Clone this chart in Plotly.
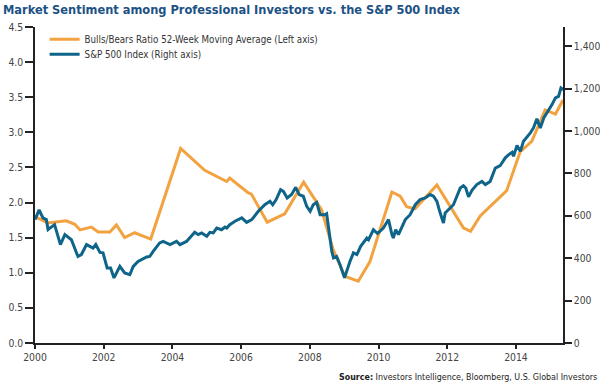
import plotly.graph_objects as go

# Bulls/Bears ratio, 52-week moving average (left axis)
bb_years = [2000.00, 2000.37, 2000.91, 2001.16, 2001.31, 2001.64, 2001.84, 2002.18, 2002.37,
            2002.61, 2002.90, 2003.37, 2004.24, 2004.94, 2005.58, 2005.67, 2006.20, 2006.30,
            2006.76, 2007.27, 2007.82, 2008.34, 2008.68, 2009.02, 2009.41, 2009.75, 2010.39,
            2010.63, 2010.82, 2011.06, 2011.70, 2012.47, 2012.68, 2012.96, 2013.73, 2014.12,
            2014.46, 2014.85, 2015.15, 2015.37]
bb_ratio = [1.80, 1.71, 1.74, 1.69, 1.61, 1.65, 1.58, 1.58, 1.68,
            1.50, 1.57, 1.48, 2.77, 2.46, 2.30, 2.35, 2.14, 2.12,
            1.72, 1.84, 2.29, 1.90, 1.33, 0.95, 0.88, 1.16, 2.15,
            2.09, 1.94, 1.91, 2.25, 1.64, 1.59, 1.81, 2.17, 2.72,
            2.87, 3.32, 3.26, 3.46]

# S&P 500 index (right axis)
spx_years = [2000.00, 2000.12, 2000.23, 2000.33, 2000.38, 2000.57, 2000.74, 2000.87, 2001.06,
             2001.25, 2001.35, 2001.50, 2001.69, 2001.77, 2001.89, 2001.98, 2002.10, 2002.20,
             2002.30, 2002.47, 2002.61, 2002.76, 2002.86, 2003.00, 2003.25, 2003.34, 2003.44,
             2003.63, 2003.73, 2003.93, 2004.12, 2004.22, 2004.41, 2004.65, 2004.75, 2004.85,
             2005.00, 2005.09, 2005.19, 2005.29, 2005.43, 2005.53, 2005.58, 2005.67, 2005.82,
             2006.02, 2006.16, 2006.31, 2006.50, 2006.69, 2006.84, 2006.92, 2007.02, 2007.15,
             2007.23, 2007.34, 2007.47, 2007.59, 2007.69, 2007.81, 2007.91, 2008.01, 2008.10,
             2008.20, 2008.30, 2008.44, 2008.49, 2008.54, 2008.64, 2008.69, 2008.78, 2008.88,
             2009.01, 2009.17, 2009.27, 2009.37, 2009.48, 2009.66, 2009.71, 2009.85, 2009.97,
             2010.14, 2010.29, 2010.39, 2010.43, 2010.50, 2010.58, 2010.78, 2010.92, 2011.07,
             2011.21, 2011.36, 2011.50, 2011.60, 2011.70, 2011.78, 2011.89, 2011.94, 2012.04,
             2012.18, 2012.38, 2012.47, 2012.54, 2012.62, 2012.72, 2012.86, 2013.01, 2013.11,
             2013.25, 2013.40, 2013.54, 2013.69, 2013.79, 2013.89, 2013.93, 2014.03, 2014.13,
             2014.22, 2014.42, 2014.51, 2014.61, 2014.71, 2014.81, 2014.91, 2015.05, 2015.15,
             2015.24, 2015.31, 2015.38]
spx_index = [582, 628, 590, 582, 535, 558, 464, 511, 487,
             408, 417, 464, 448, 464, 427, 425, 354, 354,
             307, 361, 330, 322, 361, 385, 406, 408, 432,
             472, 479, 464, 479, 464, 479, 522, 511, 519,
             503, 522, 519, 542, 534, 547, 542, 558, 574,
             590, 569, 582, 621, 652, 668, 652, 676, 723,
             715, 684, 700, 734, 700, 692, 644, 621, 652,
             663, 605, 605, 610, 550, 432, 401, 408, 369,
             307, 385, 425, 417, 456, 495, 487, 534, 516,
             542, 582, 511, 495, 534, 511, 582, 605, 652,
             676, 684, 700, 692, 668, 621, 566, 613, 629,
             652, 731, 742, 731, 689, 720, 747, 762, 747,
             762, 825, 836, 873, 888, 899, 880, 931, 904,
             951, 991, 1014, 1057, 1014, 1061, 1085, 1124, 1156,
             1163, 1203, 1195]

x_ticks = [2000, 2002, 2004, 2006, 2008, 2010, 2012, 2014]
left_ticks = [0.0, 0.5, 1.0, 1.5, 2.0, 2.5, 3.0, 3.5, 4.0, 4.5]
right_ticks = [0, 200, 400, 600, 800, 1000, 1200, 1400]

ORANGE = "#F2A23F"
BLUE = "#0F6489"
FONT = "Liberation Sans Narrow, DejaVu Sans Condensed, Roboto Condensed, Roboto, sans-serif"

fig = go.Figure()
fig.add_trace(go.Scatter(x=bb_years, y=bb_ratio, mode="lines", legend="legend",
                         name="Bulls/Bears Ratio 52-Week Moving Average (Left axis)",
                         line=dict(color=ORANGE, width=3)))
fig.add_trace(go.Scatter(x=spx_years, y=spx_index, mode="lines", yaxis="y2", legend="legend2",
                         name="S&P 500 Index (Right axis)",
                         line=dict(color=BLUE, width=3)))

axis_common = dict(showline=True, linecolor="#222", linewidth=1.5, showgrid=False,
                   zeroline=False, ticks="outside", tickcolor="#222", tickwidth=1.5,
                   automargin=False,
                   tickfont=dict(family=FONT, size=10.3, color="#444"))

legend_common = dict(xanchor="left", yanchor="middle", bgcolor="rgba(0,0,0,0)",
                     font=dict(family=FONT, size=9.7, color="#333"))

fig.update_layout(
    template="none",
    width=600, height=389,
    margin=dict(l=35, r=37, t=27, b=46, autoexpand=False),
    plot_bgcolor="white", paper_bgcolor="white",
    title=dict(text="<b>Market Sentiment among Professional Investors vs. the S&P 500 Index</b>",
               font=dict(family=FONT, size=12.7, color="#1D5285"),
               x=0.005, xref="container", xanchor="left",
               y=0.976, yref="container", yanchor="middle"),
    xaxis=dict(range=[2000, 2015.37], tickvals=x_ticks, ticklen=4, **axis_common),
    yaxis=dict(range=[0, 4.5], tickvals=left_ticks, tickformat=".1f", ticklen=8, **axis_common),
    yaxis2=dict(range=[0, 1490], tickvals=right_ticks, tickformat=",", ticklen=7,
                overlaying="y", side="right", **axis_common),
    legend=dict(x=0.0182, y=0.961, **legend_common),
    legend2=dict(x=0.0182, y=0.9136, **legend_common),
    showlegend=True,
    annotations=[dict(text="<b>Source:</b> Investors Intelligence, Bloomberg, U.S. Global Investors",
                      xref="paper", yref="paper", x=1.069, y=-0.108,
                      xanchor="right", yanchor="middle", showarrow=False,
                      font=dict(family=FONT, size=8.86, color="#222"))],
)

fig.write_html("out.html", config={"displayModeBar": False},
               post_script="document.body.style.margin='0';")
